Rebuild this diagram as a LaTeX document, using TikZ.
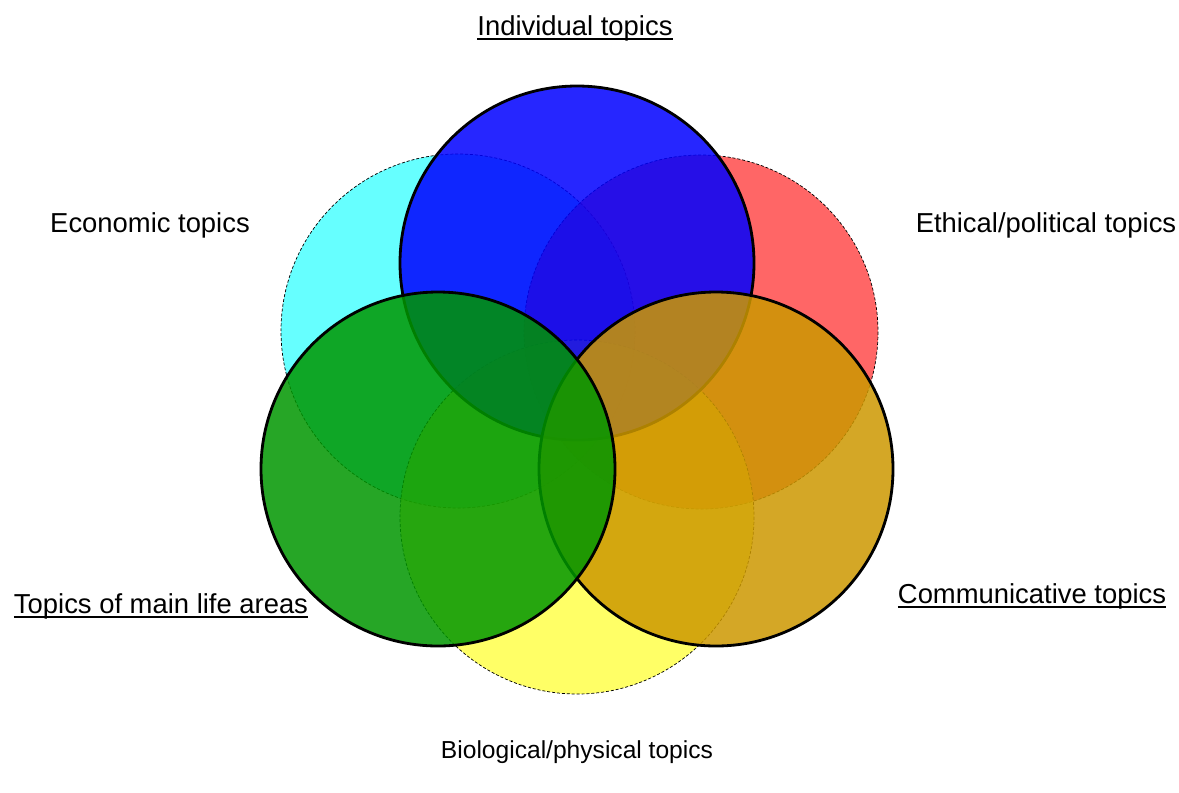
\documentclass[tikz,border=0pt]{standalone}
\usepackage{fontspec}
\setmainfont{Liberation Sans}
\usepackage{xcolor}
\usepackage{tikz}

\definecolor{indivblue}{RGB}{0,0,255}
\definecolor{lifegreen}{RGB}{0,150,0}
\definecolor{commgold}{RGB}{204,152,0}
\definecolor{econcyan}{RGB}{0,255,255}
\definecolor{ethicred}{RGB}{255,0,0}
\definecolor{bioyellow}{RGB}{255,255,0}

\newcommand{\topicline}[1]{\setbox0\hbox{#1}\rlap{\rule[-2.7pt]{\wd0}{1.1pt}}\box0}

\begin{document}
\begin{tikzpicture}[x=0.02cm,y=-0.02cm,
    topic/.style={anchor=base,inner sep=0pt,font=\fontsize{15.6}{18}\selectfont},
    mainset/.style={draw=black,line width=1.6pt,fill opacity=0.85},
    sideset/.style={draw=black,line width=0.4pt,dash pattern=on 1.7pt off 1.1pt,fill opacity=0.6}]
    \useasboundingbox (0,0) rectangle (1179,792);
    % dashed sets
    \draw[sideset,fill=econcyan] (458,331) circle (177);
    \draw[sideset,fill=ethicred] (701,332) circle (177);
    \draw[sideset,fill=bioyellow] (577,517) circle (177);
    % solid sets
    \draw[mainset,fill=indivblue] (577,263) circle (177);
    \draw[mainset,fill=commgold] (716,469) circle (177);
    \draw[mainset,fill=lifegreen] (438,469) circle (177);
    % labels
    \node[topic] (individual) at (575,35) {\topicline{Individual topics}};
    \node[topic] (economic) at (150,232) {Economic topics};
    \node[topic] (ethical) at (1046,232) {Ethical/political topics};
    \node[topic] (lifeareas) at (161,613) {\topicline{Topics of main life areas}};
    \node[topic] (communicative) at (1032,603) {\topicline{Communicative topics}};
    \node[topic,font=\fontsize{14}{17}\selectfont] (biological) at (577,758) {Biological/physical topics};
\end{tikzpicture}
\end{document}
